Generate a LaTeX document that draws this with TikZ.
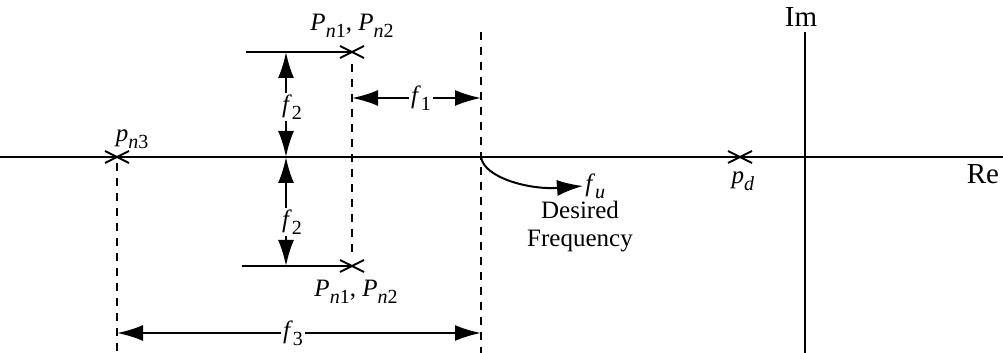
\documentclass[tikz,border=0pt]{standalone}
\usepackage{fontspec}
\setmainfont{Liberation Serif}
\usetikzlibrary{arrows.meta,calc}
\newcommand\lbl[2]{\textit{#1}\raisebox{-0.6ex}{\fontsize{10}{12}\selectfont #2}}
\tikzset{
  ax/.style={line width=1.1pt},
  dsh/.style={line width=1.1pt, dash pattern=on 4pt off 3.5pt},
  tip/.style={},
  dim/.style={line width=1.1pt, {Latex[length=13pt,width=8pt]}-{Latex[length=13pt,width=8pt]}},
  lab/.style={font=\fontsize{12.5}{14}\selectfont, inner sep=1pt},
  dlab/.style={lab, fill=white},
  crs/.style={line width=1pt}
}
\newcommand\cross[1]{\draw[crs] ($(#1)+(-12,-6)$) -- ($(#1)+(12,6)$) ($(#1)+(-12,6)$) -- ($(#1)+(12,-6)$);}
\begin{document}
\begin{tikzpicture}[x=0.5pt,y=-0.5pt]
\useasboundingbox (0,0) rectangle (1003,353);
% axes
\coordinate (reL) at (0,157);
\coordinate (reR) at (1003,157);
\coordinate (imT) at (805,32);
\coordinate (imB) at (805,353);
\draw[ax] (reL) -- (reR);
\draw[ax] (imT) -- (imB);
\node[lab, font=\fontsize{14.5}{16}\selectfont] (im) at (801,17) {Im};
\node[lab, font=\fontsize{14.5}{16}\selectfont] (re) at (983,174) {Re};
% poles
\coordinate (pd) at (740,157);
\coordinate (pn3) at (117,157);
\coordinate (pu) at (352,52);
\coordinate (pl) at (352,266);
\cross{pd} \cross{pn3} \cross{pu} \cross{pl}
\node[lab] (pdl) at (743,181) {\lbl{p}{\textit{d}}};
\node[lab] (pn3l) at (132,139) {\lbl{p}{\textit{n}3}};
\node[lab] (pul) at (352,26) {\lbl{P}{\textit{n}1}, \lbl{P}{\textit{n}2}};
\node[lab] (pll) at (356,292) {\lbl{P}{\textit{n}1}, \lbl{P}{\textit{n}2}};
% horizontal lines to upper/lower poles
\coordinate (ul) at (246,52);
\coordinate (ll) at (242,266);
\draw[line width=1.1pt] (ul) -- (pu);
\draw[line width=1.1pt] (ll) -- (pl);
% dashed verticals
\coordinate (d1t) at (352,64);
\coordinate (d1b) at (352,258);
\coordinate (d2t) at (481,32);
\coordinate (d2b) at (481,353);
\coordinate (d3t) at (117,163);
\coordinate (d3b) at (117,353);
\draw[dsh] (d1t) -- (d1b);
\draw[dsh] (d2t) -- (d2b);
\draw[dsh] (d3t) -- (d3b);
% f1
\coordinate (f1a) at (352,98);
\coordinate (f1b) at (481,98);
\draw[dim] (f1a) -- (f1b);
\node[dlab] (f1) at (421,98) {\lbl{f}{1}};
% f2 upper
\coordinate (f2ua) at (286,52);
\coordinate (f2ub) at (286,157);
\draw[dim] (f2ua) -- (f2ub);
\node[dlab] (f2u) at (292,107) {\lbl{f}{2}};
% f2 lower
\coordinate (f2la) at (286,157);
\coordinate (f2lb) at (286,266);
\draw[dim] (f2la) -- (f2lb);
\node[dlab] (f2l) at (292,222) {\lbl{f}{2}};
% f3
\coordinate (f3a) at (117,333);
\coordinate (f3b) at (481,333);
\draw[dim] (f3a) -- (f3b);
\node[dlab] (f3) at (293,333) {\lbl{f}{3}};
% desired frequency
\coordinate (fs) at (481,157);
\node[lab, anchor=west] (fu) at (583,186) {\lbl{f}{\textit{u}}};
\draw[line width=1pt, -{Latex[length=13pt,width=8pt]}] (fs) .. controls (484,178) and (530,190) .. (fu.west);
\node[lab, align=center] (df) at (580,227) {Desired\\Frequency};
\end{tikzpicture}
\end{document}
